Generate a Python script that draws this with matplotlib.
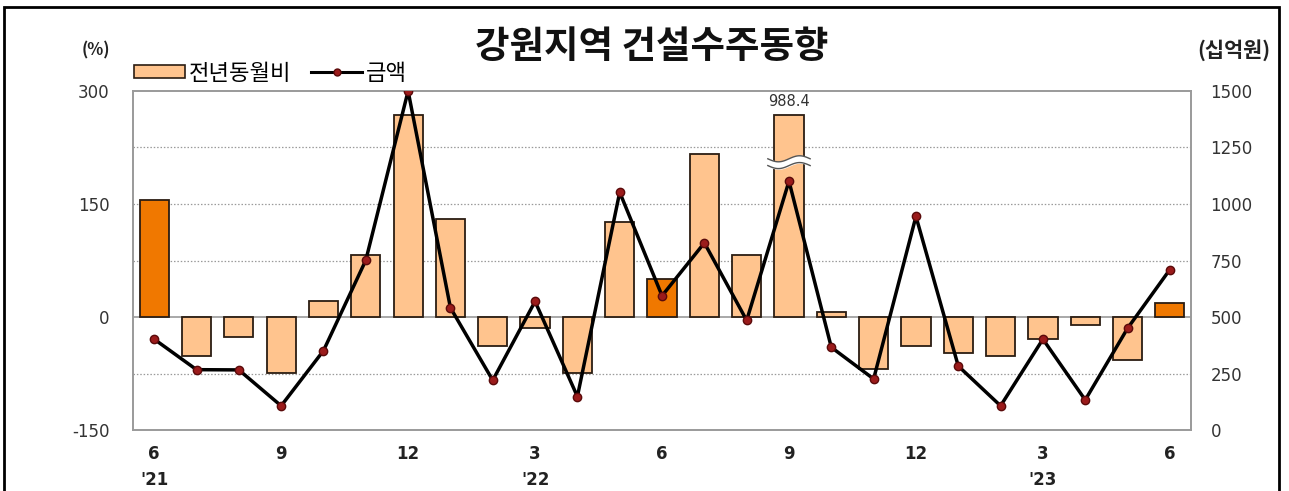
import matplotlib
matplotlib.use("Agg")
import matplotlib.pyplot as plt
import numpy as np
from matplotlib.patches import Patch, Rectangle
from matplotlib.lines import Line2D

plt.rcParams['font.family'] = ['Noto Sans CJK KR', 'DejaVu Sans']

# ---- data ----
months = ['6', '7', '8', '9', '10', '11', '12', '1', '2', '3', '4', '5',
          '6', '7', '8', '9', '10', '11', '12', '1', '2', '3', '4', '5', '6']
month_ticks = ['6', '9', '12', '3', '6', '9', '12', '3', '6']
year_labels = {0: "'21", 9: "'22", 21: "'23"}
yoy = [155, -52, -27, -74, 21, 82, 275, 130, -38, -14, -74, 126,
       50, 216, 82, 988.4, 6, -69, -38, -48, -52, -29, -11, -57, 19]
amount = [402, 267, 266, 107, 351, 751, 1500, 541, 220, 569, 148, 1052,
          594, 828, 485, 1101, 366, 226, 945, 283, 107, 402, 133, 450, 710]
highlight = [0, 12, 24]          # June bars drawn in dark orange
bar_cap = 268                    # displayed height of the broken bar
title = '강원지역 건설수주동향'

light = '#FFC48E'
dark = '#F07800'

fig = plt.figure(figsize=(12.89, 4.91), dpi=100)
ax1 = fig.add_axes([0.1032, 0.1242, 0.8208, 0.6905])
ax2 = ax1.twinx()

x = np.arange(len(yoy))
disp = [min(v, bar_cap) for v in yoy]
colors = [dark if i in highlight else light for i in range(len(yoy))]

ax1.set_xlim(-0.5, len(yoy) - 0.5)
ax1.set_ylim(-150, 300)
ax2.set_ylim(0, 1500)

for g in [-75, 75, 150, 225]:
    ax1.axhline(g, color='#9a9a9a', lw=0.9, ls=(0, (1.2, 1.5)), zorder=0)
ax1.axhline(0, color='#9a9a9a', lw=1.2, zorder=1)

ax1.bar(x, disp, width=0.69, color=colors, edgecolor='#2b1d12', linewidth=1.3, zorder=2)

# broken bar marks
bi = int(np.argmax(yoy))
xs = np.linspace(bi - 0.5, bi + 0.5, 60)
wave = 4 * np.sin((xs - bi) * 2 * np.pi * 1.0)
y_lo = 201 + wave
y_hi = 210 + wave
ax1.fill_between(xs, y_lo, y_hi, color='white', zorder=3)
ax1.plot(xs, y_lo, color='#555555', lw=1.0, zorder=4)
ax1.plot(xs, y_hi, color='#555555', lw=1.0, zorder=4)
ax1.text(bi, bar_cap + 8, f'{yoy[bi]}', ha='center', va='bottom', fontsize=10.5,
         color='#333333', family='DejaVu Sans')

ax2.plot(x, amount, color='black', lw=2.5, marker='o', markersize=6,
         markerfacecolor='#9B1B1B', markeredgecolor='#5a0a0a', zorder=5)

for a in (ax1, ax2):
    for s in a.spines.values():
        s.set_color('#9a9a9a')
        s.set_linewidth(1.2)

ax1.set_yticks([-150, 0, 150, 300])
ax1.set_yticklabels(['-150', '0', '150', '300'], family='DejaVu Sans')
ax2.set_yticks([0, 250, 500, 750, 1000, 1250, 1500])
ax2.set_yticklabels(['0', '250', '500', '750', '1000', '1250', '1500'], family='DejaVu Sans')
ax1.tick_params(axis='y', length=0, pad=17, labelsize=12, labelcolor='#333333')
ax2.tick_params(axis='y', length=0, pad=14, labelsize=12, labelcolor='#333333')

ax1.set_xticks(x[::3])
ax1.set_xticklabels(month_ticks, family='DejaVu Sans', fontweight='bold')
ax1.tick_params(axis='x', length=0, pad=11, labelsize=12, labelcolor='#222222')
for i, lab in year_labels.items():
    ax1.text(i, -150 - 54, lab, ha='center', va='top',
             fontsize=12, fontweight='bold', color='#222222', family='DejaVu Sans')

fig.text(0.506, 0.905, title, ha='center', va='center', fontsize=27, fontweight='bold', color='#111111')
fig.text(0.074, 0.898, '(%)', ha='center', va='center', fontsize=12, fontweight='bold', color='#222222')
fig.text(0.957, 0.898, '(십억원)', ha='center', va='center', fontsize=15, fontweight='bold', color='#222222')

handles = [Patch(facecolor=light, edgecolor='#2b1d12', linewidth=1.2),
           Line2D([0], [0], color='black', lw=2.2, marker='o', markersize=5,
                  markerfacecolor='#9B1B1B', markeredgecolor='#5a0a0a')]
fig.legend(handles, ['전년동월비', '금액'], loc='center left', bbox_to_anchor=(0.104, 0.851),
           ncol=2, frameon=False, fontsize=16, handlelength=2.3, handleheight=0.55,
           handletextpad=0.15, columnspacing=0.9, borderaxespad=0, borderpad=0)

fig.patches.append(Rectangle((0.003, -0.01), 0.989, 0.995, transform=fig.transFigure,
                             fill=False, edgecolor='black', lw=2))

fig.savefig('out.png', dpi=100)
